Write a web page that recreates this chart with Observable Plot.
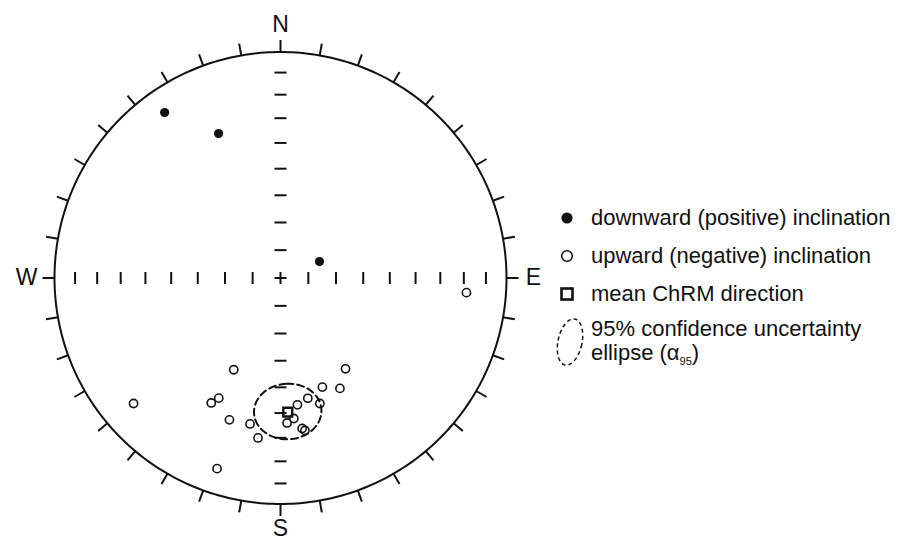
<!DOCTYPE html>
<html><head><meta charset="utf-8">
<script src="https://cdn.jsdelivr.net/npm/d3@7"></script>
<script src="https://cdn.jsdelivr.net/npm/@observablehq/plot@0.6"></script>
<style>
html,body{margin:0;padding:0;background:#fff;}
#wrap{position:relative;width:916px;height:541px;font-family:"Liberation Sans",Arial,Helvetica,sans-serif;color:#111;overflow:hidden;}
#wrap > svg{position:absolute;left:0;top:0;}
.row{position:absolute;font-size:22px;line-height:26px;white-space:nowrap;}
.icon{position:absolute;}
sub{font-size:11px;vertical-align:-5px;line-height:0;}
</style></head><body><div id="wrap"></div>
<script>
// Downward (positive inclination) directions: declination / inclination (deg)
const downDec = [325.0, 336.8, 67.1];
const downInc = [11.6, 31.1, 74.8];
// Upward (negative inclination) directions
const upDec = [94.5, 207.0, 144.4, 207.2, 209.0, 159.0, 151.7, 167.2, 172.4, 162.6, 199.8, 191.8, 174.6, 177.4, 171.8, 170.9, 188.0, 198.4, 229.5];
const upInc = [-18.6, -52.4, -49.1, -40.0, -36.9, -47.1, -43.8, -44.6, -42.8, -41.4, -33.7, -34.4, -37.6, -36.0, -33.2, -32.2, -29.3, -12.1, -15.6];
// Mean ChRM direction and alpha95
const meanDec = [176.9];
const meanInc = [-40.3];
const alpha95 = 11;
// Net labels and graticule
const cardinalLabels = ["N", "E", "S", "W"];
const cardinalDec = [0, 90, 180, 270];
const rimTickDec = d3.range(0, 360, 10);
const axisTickInc = [10, 20, 30, 40, 50, 60, 70, 80];
const legendLabels = ["downward (positive) inclination", "upward (negative) inclination", "mean ChRM direction", "95% confidence uncertainty", "ellipse (α<sub>95</sub>)"];

const rad = Math.PI / 180;
// Lower-hemisphere equal-area (Schmidt) projection, unit primitive circle
function proj(dec, inc) {
  const r = Math.sqrt(1 - Math.sin(Math.abs(inc) * rad));
  return {x: r * Math.sin(dec * rad), y: r * Math.cos(dec * rad)};
}
const downPts = downDec.map((d, i) => proj(d, downInc[i]));
const upPts = upDec.map((d, i) => proj(d, upInc[i]));
const meanPts = meanDec.map((d, i) => proj(d, meanInc[i]));

// small circle of radius alpha95 about the mean
function smallCircle(dec, inc, a) {
  const D = dec * rad, I = Math.abs(inc) * rad, A = a * rad;
  const m = [Math.cos(I) * Math.cos(D), Math.cos(I) * Math.sin(D), Math.sin(I)];
  const u = [-Math.sin(I) * Math.cos(D), -Math.sin(I) * Math.sin(D), Math.cos(I)];
  const v = [m[1] * u[2] - m[2] * u[1], m[2] * u[0] - m[0] * u[2], m[0] * u[1] - m[1] * u[0]];
  return d3.range(0, 361, 4).map(t => {
    const T = t * rad;
    const p = [0, 1, 2].map(k => Math.cos(A) * m[k] + Math.sin(A) * (Math.cos(T) * u[k] + Math.sin(T) * v[k]));
    const dd = Math.atan2(p[1], p[0]) / rad;
    const ii = Math.asin(p[2]) / rad;
    return proj(dd, ii);
  });
}
const ellipsePts = smallCircle(meanDec[0], meanInc[0], alpha95);
const rimPts = d3.range(0, 361, 1).map(d => proj(d, 0));

const R = 226, cx = 280, cy = 277.5;
const tickLen = 12 / R, half = 6 / R;
const rimTicks = rimTickDec.map(d => ({x1: Math.sin(d * rad), y1: Math.cos(d * rad), x2: (1 + tickLen) * Math.sin(d * rad), y2: (1 + tickLen) * Math.cos(d * rad)}));
const axisR = axisTickInc.map(i => proj(0, i).y);
const ewTicks = axisR.flatMap(r => [r, -r]).concat([0]).map(r => ({x1: r, x2: r, y1: -half, y2: half}));
const nsTicks = axisR.flatMap(r => [r, -r]).concat([0]).map(r => ({x1: -half, x2: half, y1: r, y2: r}));
// label gap beyond the rim (px) for N, E, S, W
const labGap = [27, 27, 25, 28];

const chart = Plot.plot({
  width: 916, height: 541,
  x: {domain: [-1, 1], range: [cx - R, cx + R], axis: null},
  y: {domain: [-1, 1], range: [cy + R, cy - R], axis: null},
  style: {background: "transparent", fontFamily: "Liberation Sans, Arial, sans-serif", overflow: "visible"},
  marks: [
    Plot.line(rimPts, {x: "x", y: "y", stroke: "#111", strokeWidth: 2}),
    Plot.link(rimTicks, {x1: "x1", y1: "y1", x2: "x2", y2: "y2", stroke: "#111", strokeWidth: 2}),
    Plot.link(ewTicks, {x1: "x1", y1: "y1", x2: "x2", y2: "y2", stroke: "#111", strokeWidth: 2}),
    Plot.link(nsTicks, {x1: "x1", y1: "y1", x2: "x2", y2: "y2", stroke: "#111", strokeWidth: 2}),
    Plot.text(cardinalLabels, {x: (d, i) => (1 + labGap[i] / R) * Math.sin(cardinalDec[i] * rad), y: (d, i) => (1 + labGap[i] / R) * Math.cos(cardinalDec[i] * rad), text: d => d, fontSize: 23, fill: "#111"}),
    Plot.line(ellipsePts, {x: "x", y: "y", stroke: "#111", strokeWidth: 2, strokeDasharray: "7,4", curve: "linear"}),
    Plot.dot(downPts, {x: "x", y: "y", r: 4.6, fill: "#111", stroke: "none"}),
    Plot.dot(upPts, {x: "x", y: "y", r: 4.1, fill: "none", stroke: "#111", strokeWidth: 1.6}),
    Plot.dot(meanPts, {x: "x", y: "y", r: 5, symbol: "square", fill: "none", stroke: "#111", strokeWidth: 2.4})
  ]
});
const wrap = document.getElementById("wrap");
wrap.appendChild(chart);

// Legend (HTML overlay)
const rowCenters = [218, 256, 294, 329, 353];
const textLeft = 591;
legendLabels.forEach((t, i) => {
  const div = document.createElement("div");
  div.className = "row";
  div.style.left = textLeft + "px";
  div.style.top = (rowCenters[i] - 13) + "px";
  div.innerHTML = t;
  wrap.appendChild(div);
});
function icon(svg, left, top, w, h) {
  const s = document.createElementNS("http://www.w3.org/2000/svg", "svg");
  s.setAttribute("width", w); s.setAttribute("height", h);
  s.setAttribute("class", "icon");
  s.style.left = left + "px"; s.style.top = top + "px";
  s.innerHTML = svg;
  wrap.appendChild(s);
}
icon('<circle cx="10" cy="10" r="5.6" fill="#111"/>', 557, rowCenters[0] - 10, 20, 20);
icon('<circle cx="10" cy="10" r="5.3" fill="none" stroke="#111" stroke-width="1.6"/>', 557, rowCenters[1] - 10, 20, 20);
icon('<rect x="4.5" y="4.5" width="11" height="11" fill="none" stroke="#111" stroke-width="2.6"/>', 557, rowCenters[2] - 10, 20, 20);
icon('<ellipse cx="17" cy="27" rx="12" ry="23.5" fill="none" stroke="#111" stroke-width="1.5" stroke-dasharray="4,3" transform="rotate(12 17 27)"/>', 553, 315, 34, 56);
</script></body></html>
